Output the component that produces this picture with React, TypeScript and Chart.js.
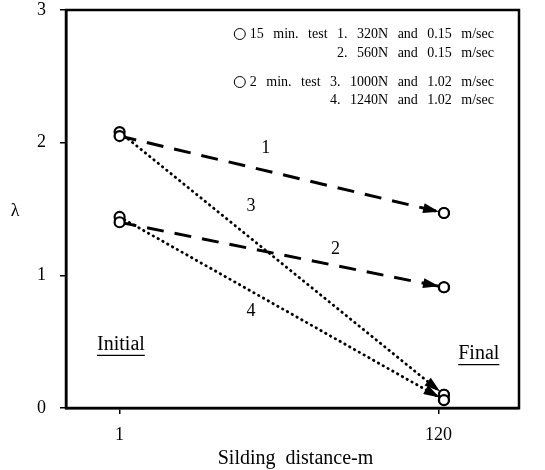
import React, { useEffect, useRef } from "react";
import { Chart, registerables } from "chart.js";

Chart.register(...registerables);

// Sliding distance (m) of the initial and final measurements
const xStart = 1;
const xEnd = 122;
const xTickValues = [1, 120];
const yTickValues = [0, 1, 2, 3];

// λ values: [initial, final]
const test1 = [2.05, 1.47];
const test2 = [1.4, 0.91];
const test3 = [2.08, 0.1];
const test4 = [1.44, 0.06];

const seriesValues = [test1, test2, test3, test4];
const seriesDash = [[17, 11], [17, 11], [0.5, 5], [0.5, 5]];

// Series labels, positioned in data coordinates [x, y]
const seriesLabels = ["1", "2", "3", "4"];
const seriesLabelPos = [
  [55.5, 1.96],
  [81.5, 1.2],
  [50, 1.52],
  [50, 0.73],
];

const legendLines = [
  "15 min. test 1. 320N and 0.15 m/sec",
  "2. 560N and 0.15 m/sec",
  "2 min. test 3. 1000N and 1.02 m/sec",
  "4. 1240N and 1.02 m/sec",
];

const SERIF = "'Liberation Serif', 'DejaVu Serif', serif";

const annotationPlugin = {
  id: "annotations",
  afterDatasetsDraw(chart: any) {
    const ctx = chart.ctx;
    const xs = chart.scales.x;
    const ys = chart.scales.y;
    const area = chart.chartArea;
    ctx.save();
    // frame
    ctx.strokeStyle = "#000";
    ctx.lineWidth = 2.5;
    ctx.strokeRect(area.left, area.top, area.right - area.left, area.bottom - area.top);

    // arrowheads
    chart.data.datasets.forEach((ds: any) => {
      const p0 = ds.data[0];
      const p1 = ds.data[1];
      const x0 = xs.getPixelForValue(p0.x);
      const y0 = ys.getPixelForValue(p0.y);
      const x1 = xs.getPixelForValue(p1.x);
      const y1 = ys.getPixelForValue(p1.y);
      const dx = x1 - x0;
      const dy = y1 - y0;
      const len = Math.sqrt(dx * dx + dy * dy);
      const ux = dx / len;
      const uy = dy / len;
      const tipX = x1 - ux * 5;
      const tipY = y1 - uy * 5;
      const bx = tipX - ux * 16;
      const by = tipY - uy * 16;
      ctx.beginPath();
      ctx.moveTo(tipX, tipY);
      ctx.lineTo(bx - uy * 5, by + ux * 5);
      ctx.lineTo(bx + uy * 5, by - ux * 5);
      ctx.closePath();
      ctx.fillStyle = "#000";
      ctx.fill();
      ctx.beginPath();
      ctx.arc(x1, y1, 5, 0, Math.PI * 2);
      ctx.fillStyle = "#fff";
      ctx.fill();
      ctx.lineWidth = 2.2;
      ctx.strokeStyle = "#000";
      ctx.stroke();
    });

    // series labels
    ctx.fillStyle = "#000";
    ctx.font = `18px ${SERIF}`;
    ctx.textAlign = "center";
    ctx.textBaseline = "middle";
    seriesLabels.forEach((t, i) => {
      const [lx, ly] = seriesLabelPos[i];
      ctx.fillText(t, xs.getPixelForValue(lx), ys.getPixelForValue(ly));
    });

    // Initial / Final
    ctx.font = `20px ${SERIF}`;
    const drawUnder = (t: string, x: number, y: number) => {
      ctx.textAlign = "center";
      ctx.textBaseline = "middle";
      ctx.fillText(t, x, y);
      const w = ctx.measureText(t).width;
      ctx.beginPath();
      ctx.moveTo(x - w / 2, y + 11);
      ctx.lineTo(x + w / 2, y + 11);
      ctx.lineWidth = 1.3;
      ctx.stroke();
    };
    drawUnder("Initial", xs.getPixelForValue(1.5), ys.getPixelForValue(0.48));
    drawUnder("Final", xs.getPixelForValue(135), ys.getPixelForValue(0.41));

    // legend text
    ctx.font = `14px ${SERIF}`;
    ctx.textAlign = "right";
    ctx.textBaseline = "middle";
    (ctx as any).wordSpacing = "6px";
    const rightX = area.right - 25;
    const rows = [area.top + 24, area.top + 43, area.top + 72, area.top + 90];
    legendLines.forEach((t, i) => {
      ctx.fillText(t, rightX, rows[i]);
    });
    [0, 2].forEach((i) => {
      const w = ctx.measureText(legendLines[i]).width;
      ctx.beginPath();
      ctx.arc(rightX - w - 10, rows[i], 5.5, 0, Math.PI * 2);
      ctx.lineWidth = 1;
      ctx.stroke();
    });
    (ctx as any).wordSpacing = "0px";

    // lambda
    ctx.font = `18px ${SERIF}`;
    ctx.textAlign = "center";
    ctx.fillText("λ", 15, ys.getPixelForValue(1.48));

    // x title
    (ctx as any).wordSpacing = "5px";
    ctx.font = `20px ${SERIF}`;
    ctx.fillText("Silding distance-m", (area.left + area.right) / 2 + 3, 459);
    (ctx as any).wordSpacing = "0px";
    ctx.restore();
  },
};

export default function App() {
  const ref = useRef<HTMLCanvasElement>(null);
  useEffect(() => {
    document.body.style.margin = "0";
    const datasets = seriesValues.map((vals, i) => ({
      data: [
        { x: xStart, y: vals[0] },
        { x: xEnd, y: vals[1] },
      ],
      showLine: true,
      borderColor: "#000",
      borderWidth: i < 2 ? 3 : 2.8,
      borderDash: seriesDash[i],
      borderCapStyle: i < 2 ? "butt" : "round",
      pointRadius: 5,
      pointBackgroundColor: "#fff",
      pointBorderColor: "#000",
      pointBorderWidth: 2.2,
    }));
    const chart = new Chart(ref.current!, {
      type: "scatter",
      data: { datasets },
      options: {
        responsive: false,
        animation: false,
        layout: { padding: { top: 10, right: 26, left: 0, bottom: 0 } },
        plugins: { legend: { display: false }, tooltip: { enabled: false } },
        scales: {
          x: {
            type: "linear",
            min: -19,
            max: 150,
            afterBuildTicks: (s: any) => {
              s.ticks = xTickValues.map((v) => ({ value: v }));
            },
            afterFit: (s: any) => {
              s.height = 62;
              s.paddingLeft = 0;
              s.paddingRight = 0;
            },
            grid: { drawOnChartArea: false, drawTicks: true, tickLength: 6, color: "#000", lineWidth: 1.5 },
            border: { display: true, color: "#000", width: 2.5 },
            ticks: { color: "#000", font: { family: SERIF, size: 18 }, padding: 10, maxRotation: 0 },
          },
          y: {
            min: 0,
            max: 3,
            afterBuildTicks: (s: any) => {
              s.ticks = yTickValues.map((v) => ({ value: v }));
            },
            afterFit: (s: any) => {
              s.width = 66;
              s.paddingTop = 0;
              s.paddingBottom = 0;
            },
            grid: { drawOnChartArea: false, drawTicks: true, tickLength: 6, color: "#000", lineWidth: 1.5 },
            border: { display: true, color: "#000", width: 2.5 },
            ticks: { color: "#000", font: { family: SERIF, size: 18 }, padding: 14 },
          },
        },
      },
      plugins: [annotationPlugin],
    });
    return () => chart.destroy();
  }, []);
  return (
    <div style={{ width: 545, height: 470 }}>
      <canvas ref={ref} width={545} height={470} />
    </div>
  );
}
